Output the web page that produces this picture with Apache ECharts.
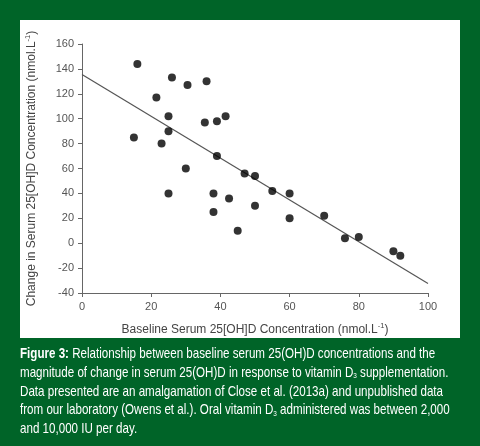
<!DOCTYPE html>
<html><head><meta charset="utf-8">
<script src="https://cdn.jsdelivr.net/npm/echarts@6/dist/echarts.min.js"></script>
<style>html,body{margin:0;padding:0;background:#006428}#c{width:480px;height:446px}</style>
</head><body><div id="c"></div>
<script>
// Baseline serum 25(OH)D (nmol/L)
const baseline = [16,15,21.5,25,25,23,26,30.5,36,35.5,39,41.5,39,30,25,38,42.5,38,45,47,50,55,60,50,60,70,76,80,90,92];
// Change in serum 25(OH)D (nmol/L)
const change = [144,85,117,102,90,80,133,127,130,97,98,102,70,60,40,40,36,25,10,56,54,42,40,30,20,22,4,5,-6.5,-10];
// Regression line endpoints
const fitX = [0,100];
const fitY = [135.5,-32.3];
const xTicks = [0,20,40,60,80,100];
const yTicks = [-40,-20,0,20,40,60,80,100,120,140,160];

const points = baseline.map((x,i)=>[x,change[i]]);
const fit = fitX.map((x,i)=>[x,fitY[i]]);

const chart = echarts.init(document.getElementById('c'));
const FF = 'Liberation Sans, Arial, sans-serif';
const axisTxt = {color:'#555', fontSize:11, fontFamily:FF};
const nameStyle = {
  color:'#444', fontSize:12, fontFamily:FF,
  rich:{sup:{fontSize:7.5, color:'#444', padding:[0,0,7,0], fontFamily:FF}}
};
chart.setOption({
  backgroundColor:'#006428',
  animation:false,
  graphic:[
    {type:'rect', z:-10, shape:{x:20,y:20,width:440,height:318}, style:{fill:'#ffffff'}},
    {type:'text', x:20, y:345, scaleX:0.80, originX:0, style:{
      text:'{b|Figure 3:} Relationship between baseline serum 25(OH)D concentrations and the\nmagnitude of change in serum 25(OH)D in response to vitamin D{s|3} supplementation.\nData presented are an amalgamation of Close et al. (2013a) and unpublished data\nfrom our laboratory (Owens et al.). Oral vitamin D{s|3} administered was between 2,000\nand 10,000 IU per day.',
      fill:'#ffffff', fontSize:14.5, lineHeight:18.7,
      fontFamily:FF,
      rich:{
        b:{fontWeight:'bold', fontSize:14.5, color:'#ffffff', fontFamily:FF, lineHeight:18.7},
        s:{fontSize:8, color:'#ffffff', fontFamily:FF, padding:[6,0,0,0], lineHeight:18.7}
      }
    }}
  ],
  grid:{left:82, right:52, top:44, bottom:153},
  xAxis:{
    type:'value', min:xTicks[0], max:xTicks[xTicks.length-1], interval:20,
    name:'Baseline Serum 25[OH]D Concentration (nmol.L{sup|-1})',
    nameLocation:'middle', nameGap:29, nameTextStyle:nameStyle,
    axisLine:{onZero:false, lineStyle:{color:'#666', width:1}},
    axisTick:{show:true, length:4, lineStyle:{color:'#666'}},
    axisLabel:Object.assign({margin:8}, axisTxt),
    splitLine:{show:false}
  },
  yAxis:{
    type:'value', min:yTicks[0], max:yTicks[yTicks.length-1], interval:20,
    name:'Change in Serum 25[OH]D Concentration (nmol.L{sup|-1})',
    nameLocation:'middle', nameGap:43, nameTextStyle:nameStyle,
    axisLine:{show:true, onZero:false, lineStyle:{color:'#666', width:1}},
    axisTick:{show:true, length:4, lineStyle:{color:'#666'}},
    axisLabel:Object.assign({margin:8}, axisTxt),
    splitLine:{show:false}
  },
  series:[
    {type:'line', data:fit, symbol:'none', lineStyle:{color:'#555', width:1.2}, z:1},
    {type:'scatter', data:points, symbol:'circle', symbolSize:8, itemStyle:{color:'#000'}, z:2}
  ]
});
</script></body></html>
